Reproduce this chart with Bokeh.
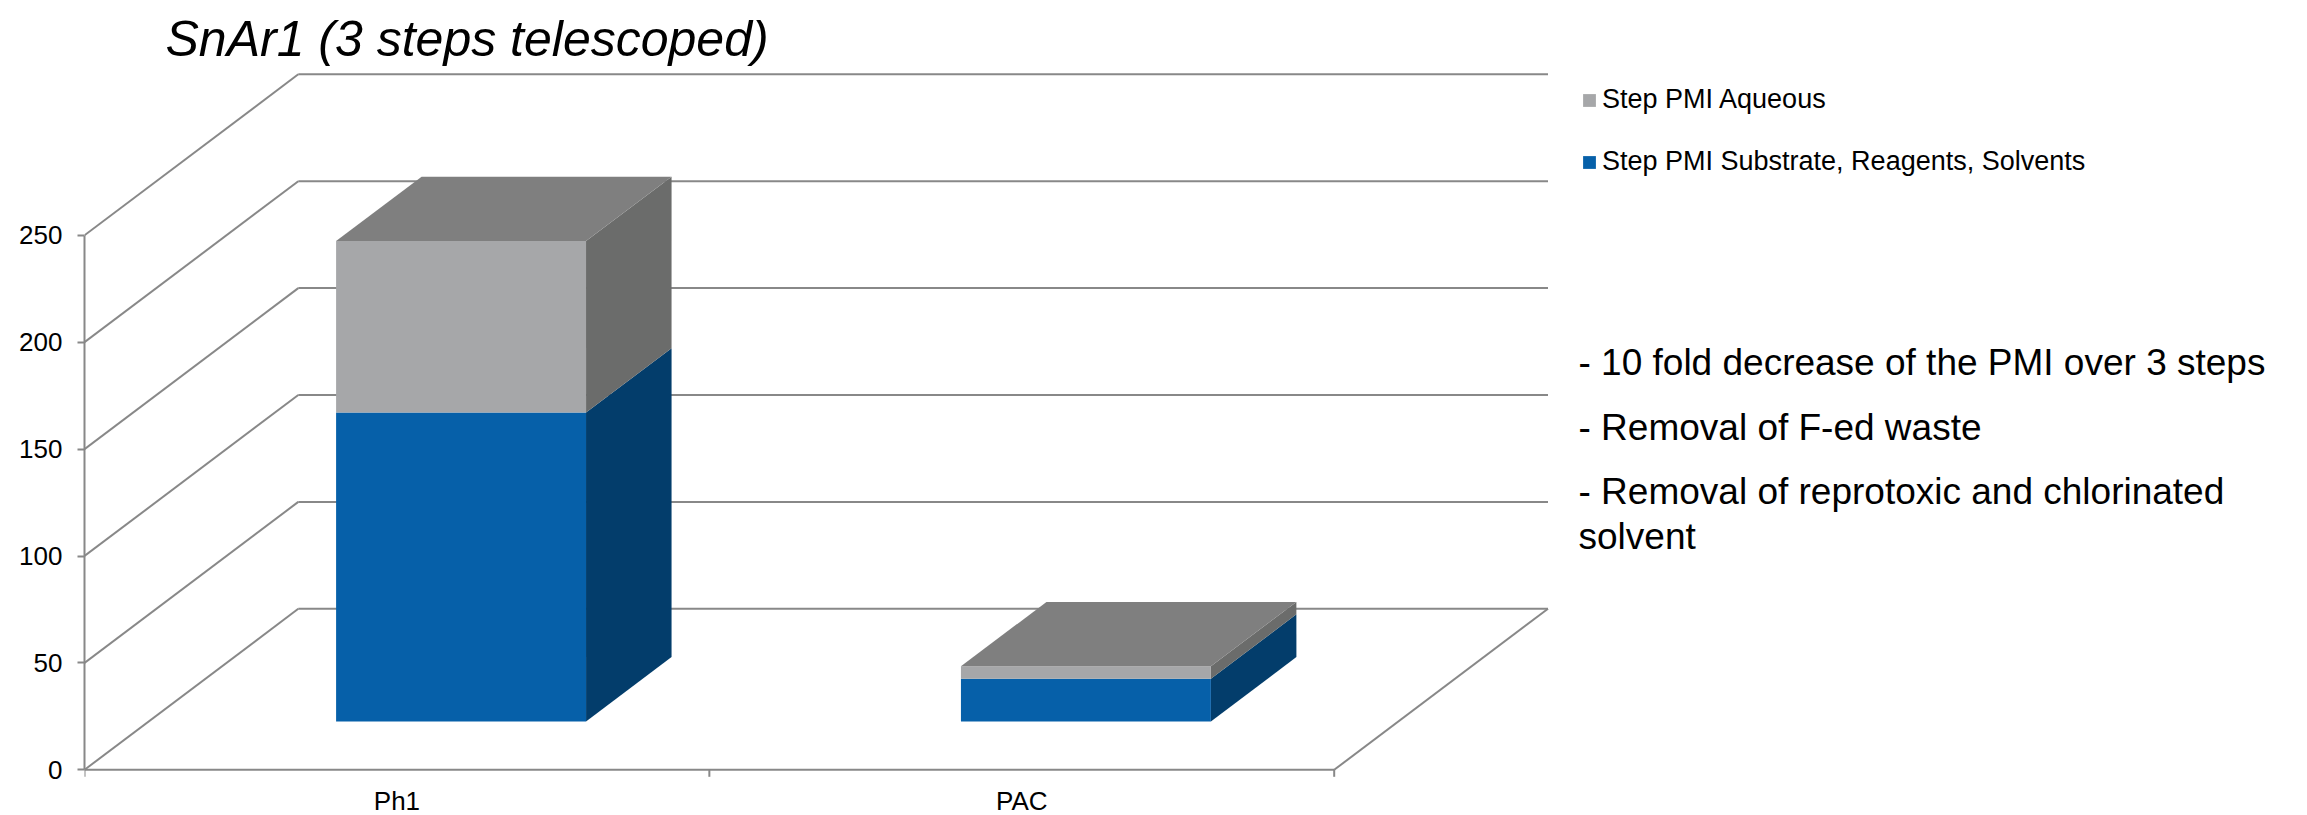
from bokeh.plotting import figure
from bokeh.models import Range1d, FixedTicker, Label, Legend, LegendItem, ColumnDataSource
from bokeh.core.properties import value
from bokeh.embed import file_html
from bokeh.resources import INLINE

# ---------------- data ----------------
categories = ["Ph1", "PAC"]
pmi_substrate = [144.5, 20.0]     # Step PMI Substrate, Reagents, Solvents
pmi_aqueous = [80.2, 5.8]         # Step PMI Aqueous
y_ticks = [0, 50, 100, 150, 200, 250]
series_names = ["Step PMI Aqueous", "Step PMI Substrate, Reagents, Solvents"]
notes = ["- 10 fold decrease of the PMI over 3 steps",
         "- Removal of F-ed waste",
         "- Removal of reprotoxic and chlorinated",
         "solvent"]
title_text = "SnAr1 (3 steps telescoped)"

# ---------------- layout / style constants ----------------
W, H = 2307, 815
FRAME_LEFT = 84
PX_PER_X = 624.85
PX_PER_Y = 2.138
Y0_FROM_TOP = 769.3
DEPTH_X = 213.8 / PX_PER_X
DEPTH_Y = 161.0 / PX_PER_Y
BAR_W = 0.4
Z0, Z1 = 0.3, 0.7
FONT = "Liberation Sans"
GRID = "#888888"
BLUE_FRONT, BLUE_SIDE = "#0660A9", "#033D6B"
GRAY_FRONT, GRAY_SIDE = "#A6A7A9", "#6B6C6B"
TOP = "#7F7F7F"

n = len(categories)
p = figure(width=W, height=H,
           x_range=Range1d(0, (W - FRAME_LEFT) / PX_PER_X),
           y_range=Range1d(-(H - Y0_FROM_TOP) / PX_PER_Y, Y0_FROM_TOP / PX_PER_Y),
           output_backend="svg", toolbar_location=None, x_axis_type=None,
           min_border_left=FRAME_LEFT, min_border_right=0,
           min_border_top=0, min_border_bottom=0)
p.outline_line_color = None
p.grid.visible = False
p.background_fill_color = "white"

ax = p.yaxis[0]
ax.ticker = FixedTicker(ticks=y_ticks)
ax.bounds = (min(y_ticks), max(y_ticks))
ax.axis_line_color = GRID
ax.axis_line_width = 2
ax.major_tick_line_color = GRID
ax.major_tick_line_width = 2
ax.major_tick_out = 7
ax.major_tick_in = 0
ax.minor_tick_out = 0
ax.minor_tick_in = 0
ax.major_label_standoff = 15
ax.major_label_text_font = FONT
ax.major_label_text_font_size = "26px"
ax.major_label_text_color = "black"

# back wall gridlines and left wall diagonals
p.segment(x0=[DEPTH_X] * len(y_ticks), y0=[v + DEPTH_Y for v in y_ticks],
          x1=[n + DEPTH_X] * len(y_ticks), y1=[v + DEPTH_Y for v in y_ticks],
          line_color=GRID, line_width=2)
p.segment(x0=[0] * len(y_ticks), y0=y_ticks,
          x1=[DEPTH_X] * len(y_ticks), y1=[v + DEPTH_Y for v in y_ticks],
          line_color=GRID, line_width=2)
# floor front edge and right edge
p.segment(x0=[0, n], y0=[0, 0], x1=[n, n + DEPTH_X], y1=[0, DEPTH_Y],
          line_color=GRID, line_width=2)
# category boundary ticks
p.segment(x0=list(range(n + 1)), y0=[0] * (n + 1), x1=list(range(n + 1)),
          y1=[-7 / PX_PER_Y] * (n + 1), line_color=GRID, line_width=2)

# ---------------- 3D stacked bars ----------------
def faces(y0s, y1s):
    front = dict(left=[], right=[], bottom=[], top=[])
    side_xs, side_ys = [], []
    for i in range(n):
        c = i + 0.5
        l = c - BAR_W / 2
        r = c + BAR_W / 2
        a, b = y0s[i], y1s[i]
        front["left"].append(l + Z0 * DEPTH_X)
        front["right"].append(r + Z0 * DEPTH_X)
        front["bottom"].append(a + Z0 * DEPTH_Y)
        front["top"].append(b + Z0 * DEPTH_Y)
        side_xs.append([r + Z0 * DEPTH_X, r + Z1 * DEPTH_X, r + Z1 * DEPTH_X, r + Z0 * DEPTH_X])
        side_ys.append([a + Z0 * DEPTH_Y, a + Z1 * DEPTH_Y, b + Z1 * DEPTH_Y, b + Z0 * DEPTH_Y])
    return front, side_xs, side_ys

zeros = [0] * n
tops = [s + q for s, q in zip(pmi_substrate, pmi_aqueous)]
fb, sxb, syb = faces(zeros, pmi_substrate)
fg, sxg, syg = faces(pmi_substrate, tops)

p.patches(xs=sxb, ys=syb, fill_color=BLUE_SIDE, line_color=None)
p.patches(xs=sxg, ys=syg, fill_color=GRAY_SIDE, line_color=None)
blue_r = p.quad(source=ColumnDataSource(fb), left="left", right="right", bottom="bottom", top="top",
                fill_color=BLUE_FRONT, line_color=None)
gray_r = p.quad(source=ColumnDataSource(fg), left="left", right="right", bottom="bottom", top="top",
                fill_color=GRAY_FRONT, line_color=None)
top_xs, top_ys = [], []
for i in range(n):
    c = i + 0.5
    l, r = c - BAR_W / 2, c + BAR_W / 2
    t = tops[i]
    top_xs.append([l + Z0 * DEPTH_X, r + Z0 * DEPTH_X, r + Z1 * DEPTH_X, l + Z1 * DEPTH_X])
    top_ys.append([t + Z0 * DEPTH_Y, t + Z0 * DEPTH_Y, t + Z1 * DEPTH_Y, t + Z1 * DEPTH_Y])
p.patches(xs=top_xs, ys=top_ys, fill_color=TOP, line_color=None)

# category labels
p.text(x=[i + 0.5 for i in range(n)], y=[0] * n, text=categories, y_offset=31,
       text_align="center", text_baseline="middle", text_font=value(FONT),
       text_font_size="26px", text_color="black")

# ---------------- legend ----------------
legend = Legend(items=[LegendItem(label=series_names[0], renderers=[gray_r]),
                       LegendItem(label=series_names[1], renderers=[blue_r])],
                location=(1581 - FRAME_LEFT, 638),
                glyph_width=16, glyph_height=16, label_standoff=5, spacing=31,
                padding=0, margin=0, border_line_color=None, background_fill_alpha=0,
                label_text_font=FONT, label_text_font_size="27px", label_height=30,
                label_text_color="black")
p.add_layout(legend)

# ---------------- title and notes ----------------
def px_label(txt, page_x, page_y, size, style="normal", baseline="middle"):
    return Label(x=page_x - FRAME_LEFT, y=H - page_y, x_units="screen", y_units="screen",
                 text=txt, text_font=FONT, text_font_size=size, text_font_style=style,
                 text_baseline=baseline, text_align="left", text_color="black")

p.add_layout(px_label(title_text, 165, 38, "50px", style="italic", baseline="alphabetic"))
for txt, yy in zip(notes, [362, 427, 491, 536]):
    p.add_layout(px_label(txt, 1578, yy, "37px"))

open("out.html", "w").write(file_html(p, INLINE))
